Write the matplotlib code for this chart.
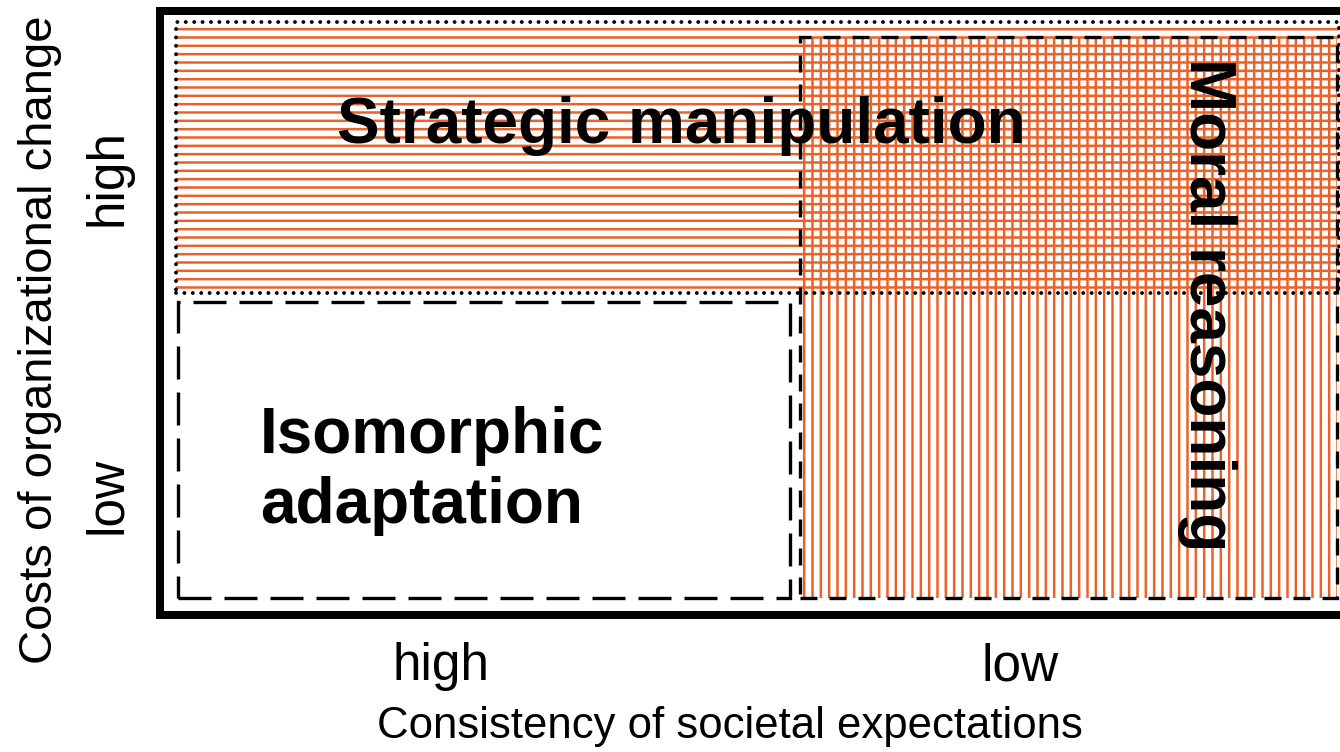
import matplotlib.pyplot as plt
from matplotlib.patches import Rectangle

plt.rcParams['font.family'] = ['Liberation Sans', 'DejaVu Sans']
plt.rcParams['hatch.linewidth'] = 1.8

# axes categories
x_labels = ['high', 'low']
y_labels = ['low', 'high']
x_title = 'Consistency of societal expectations'
y_title = 'Costs of organizational change'

# regions of the typology, extents in grid-cell units
region_names = ['Strategic manipulation', 'Moral reasoning', 'Isomorphic\nadaptation']
region_x0 = [0.0, 1.006, 0.003]
region_x1 = [1.876, 1.873, 0.990]
region_y0 = [1.057, 0.0, 0.0]
region_y1 = [1.997, 1.945, 1.026]

ORANGE = '#E8632B'


def main():
    fig = plt.figure(figsize=(13.4, 7.52), dpi=100)
    ax = fig.add_axes([160 / 1340, 137.5 / 752, 1190 / 1340, 603.5 / 752])
    ax.set_xlim(-0.0258, 1.894)
    ax.set_ylim(-0.057, 2.035)

    hatches = ['--', '||', None]
    borders = [
        dict(linestyle=(0, (0.01, 2.15)), linewidth=2.8, capstyle='round'),
        dict(linestyle=(0, (5.1, 3.6)), linewidth=2.4, capstyle='butt'),
        dict(linestyle=(0, (9.9, 3.9)), linewidth=2.4, capstyle='butt'),
    ]

    # hatched fills first
    for i in range(len(region_names)):
        w = region_x1[i] - region_x0[i]
        h = region_y1[i] - region_y0[i]
        if hatches[i]:
            ax.add_patch(Rectangle((region_x0[i], region_y0[i]), w, h,
                                   facecolor='none', edgecolor=ORANGE,
                                   linewidth=0, hatch=hatches[i], zorder=1))

    # borders on top
    for i in range(len(region_names)):
        w = region_x1[i] - region_x0[i]
        h = region_y1[i] - region_y0[i]
        p = Rectangle((region_x0[i], region_y0[i]), w, h, facecolor='none',
                      edgecolor='black', zorder=3.5 - i * 0.1,
                      linestyle=borders[i]['linestyle'],
                      linewidth=borders[i]['linewidth'])
        p.set_capstyle(borders[i]['capstyle'])
        ax.add_patch(p)

    # region labels
    ax.text(0.815, 1.577, region_names[0], ha='center', va='baseline',
            fontsize=46, fontweight='bold', zorder=5)
    ax.text(1.663, 1.016, region_names[1], ha='center', va='center',
            rotation=-90, fontsize=46, fontweight='bold', zorder=5)
    ax.text(0.135, 0.44, region_names[2], ha='left', va='center',
            fontsize=46, fontweight='bold', linespacing=1.2, zorder=5)

    # ticks
    ax.set_xticks([0.427, 1.361])
    ax.set_xticklabels(x_labels, fontsize=37)
    ax.set_yticks([0.357, 1.459])
    ax.set_yticklabels(y_labels, fontsize=37, rotation=90, va='center')
    ax.tick_params(axis='x', length=0, pad=20)
    ax.tick_params(axis='y', length=0, pad=20)

    ax.set_xlabel(x_title, fontsize=31.5)
    ax.xaxis.set_label_coords(0.479, -0.152)
    ax.set_ylabel(y_title, fontsize=34)
    ax.yaxis.set_label_coords(-0.082, 0.455)

    for s in ax.spines.values():
        s.set_linewidth(5.76)
        s.set_color('black')

    fig.savefig('out.png', dpi=100)


if __name__ == "__main__":
    main()
